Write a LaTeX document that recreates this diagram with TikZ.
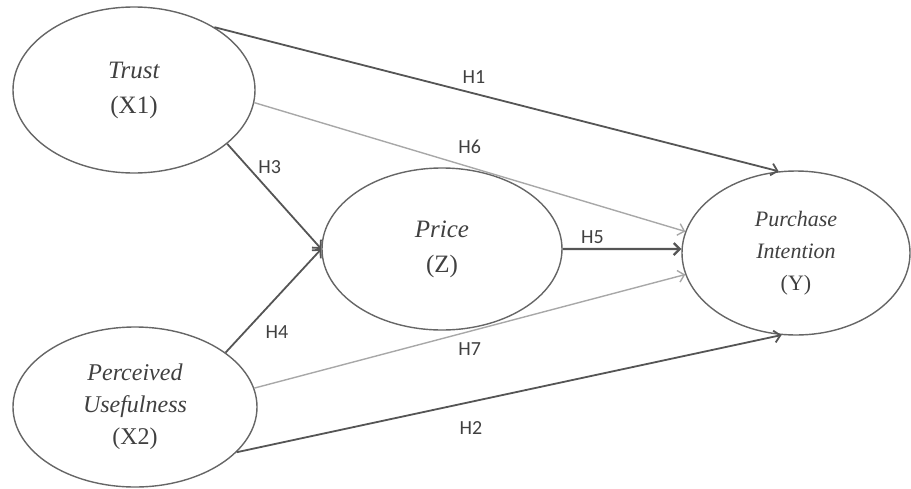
\documentclass[tikz,border=0pt]{standalone}
\usepackage{fontspec}
\setmainfont{Liberation Serif}
\newfontfamily\hypfont{Carlito}
\usetikzlibrary{shapes.geometric,arrows.meta}
\definecolor{ringgray}{HTML}{666666}
\definecolor{linegray}{HTML}{555555}
\definecolor{paleline}{HTML}{A8A8A8}
\definecolor{textgray}{HTML}{404040}
\begin{document}
\begin{tikzpicture}[x=1pt,y=-1pt,
    latent/.style = {draw=ringgray, line width=1.4pt, ellipse, inner sep=0pt, align=center,
                     text=textgray, font=\fontsize{25}{35}\selectfont},
    path/.style = {draw=linegray, line width=1.8pt, -{Straight Barb[length=6pt,width=12pt]}},
    weak/.style = {path, draw=paleline, line width=1.4pt},
    hyp/.style = {font=\hypfont\fontsize{20}{20}\selectfont, text=textgray, inner sep=0pt}]
    \useasboundingbox (0,0) rectangle (911,488);
    % latent variables
    \node[latent, minimum width=242pt, minimum height=166pt] (trust) at (134,90) {\textit{Trust}\\(X1)};
    \node[latent, minimum width=244pt, minimum height=160pt, font=\fontsize{24}{32}\selectfont] (useful) at (135,407) {\textit{Perceived}\\\textit{Usefulness}\\(X2)};
    \node[latent, minimum width=240pt, minimum height=162pt] (price) at (442,249) {\textit{Price}\\(Z)};
    \node[latent, minimum width=228pt, minimum height=164pt, font=\fontsize{22}{32}\selectfont] (purchase) at (796,253) {\textit{Purchase}\\\textit{Intention}\\(Y)};

    % hypotheses
    \draw[path] (trust.38) -- node[hyp, pos=0.46, above=9.5pt] (h1) {H1} (purchase.102);
    \draw[weak] (trust.-6) -- node[hyp, pos=0.5, above=13pt] (h6) {H6} (purchase.169);
    \draw[path] (trust.-30) -- node[hyp, pos=0.22, right=9.5pt] (h3) {H3} (price.west);
    \draw[path] (useful.31) -- node[hyp, pos=0.2, right=20pt] (h4) {H4} (price.west);
    \draw[path, line width=2.4pt] (price.east) -- node[hyp, pos=0.25, above=4.5pt] (h5) {H5} (purchase.178);
    \draw[weak] (useful.9) -- node[hyp, pos=0.5, below=10.5pt] (h7) {H7} (purchase.191);
    \draw[path] (useful.-24) -- node[hyp, pos=0.43, below=18.5pt] (h2) {H2} (purchase.-100);
\end{tikzpicture}
\end{document}
